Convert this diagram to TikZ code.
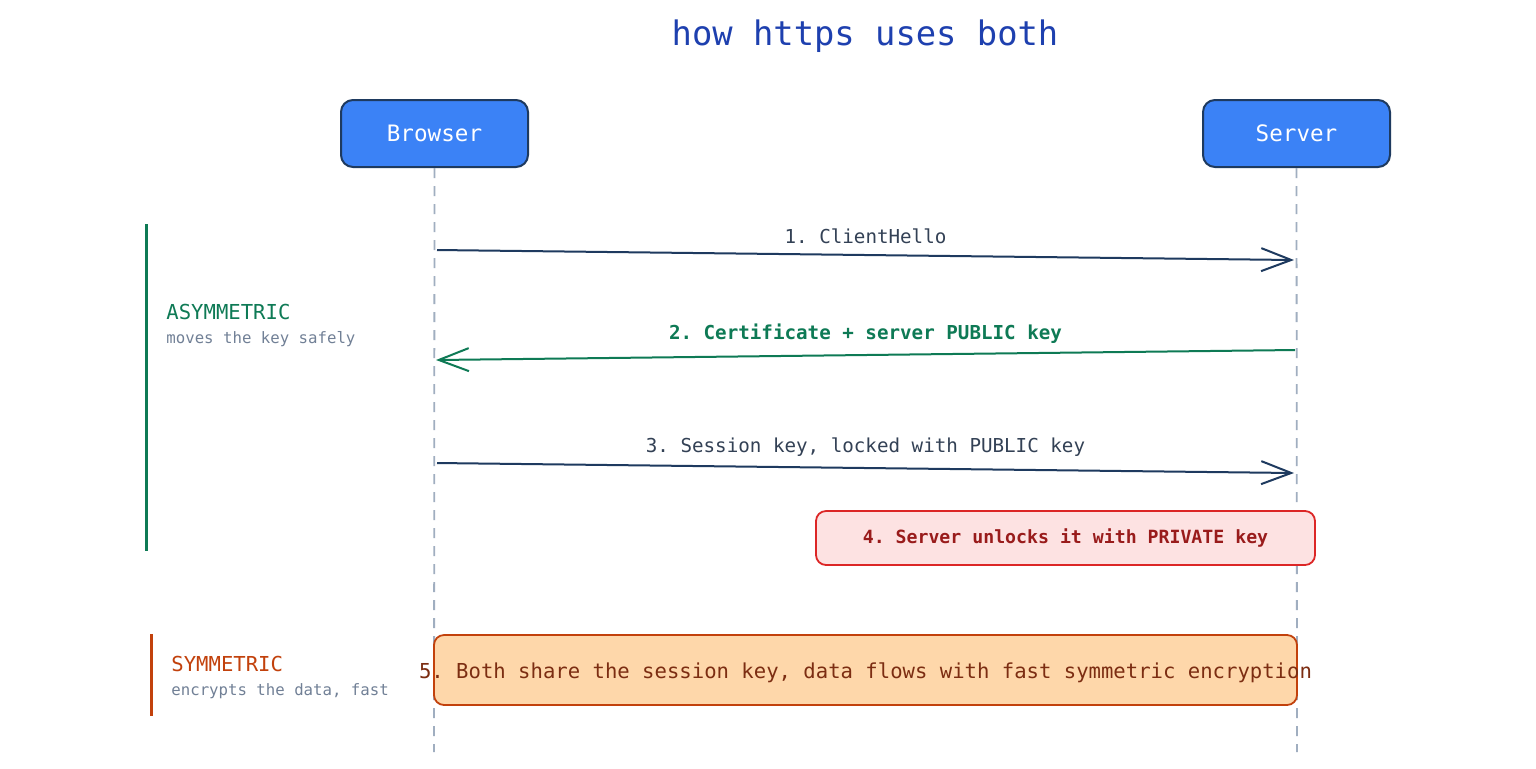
\documentclass[tikz,border=0pt]{standalone}
\usepackage{fontspec}
\setmonofont{DejaVu Sans Mono}
\usepackage{tikz}
\usetikzlibrary{arrows.meta, positioning}
\definecolor{boxblue}{HTML}{3B82F6}
\definecolor{navy}{HTML}{1E3A5F}
\definecolor{titleblue}{HTML}{1E40AF}
\definecolor{asymgreen}{HTML}{0E7A55}
\definecolor{labelgray}{HTML}{334155}
\definecolor{subgray}{HTML}{718096}
\definecolor{lifegray}{HTML}{A0AEC0}
\definecolor{privred}{HTML}{DC2626}
\definecolor{privfill}{HTML}{FDE2E2}
\definecolor{privtext}{HTML}{991B1B}
\definecolor{symorange}{HTML}{C2410C}
\definecolor{symfill}{HTML}{FED7AA}
\definecolor{symtext}{HTML}{7C2D12}

\begin{document}
\begin{tikzpicture}[
  x=0.5pt, y=-0.5pt,
  actor/.style={draw=navy, line width=1pt, rounded corners=6pt, fill=boxblue,
                minimum width=93.5pt, minimum height=33.5pt, text=white,
                font=\ttfamily\fontsize{11.3}{13}\selectfont},
  lifeline/.style={draw=lifegray, line width=0.9pt, dash pattern=on 5pt off 4pt},
  msg/.style={-{Straight Barb[length=15pt, width=11.5pt, line width=1pt]},
              line width=1pt, color=navy},
  msglabel/.style={font=\ttfamily\fontsize{9.6}{11}\selectfont, text=labelgray},
  note/.style={rounded corners=5pt, line width=0.9pt,
               font=\ttfamily\fontsize{9.1}{11}\selectfont},
  phase/.style={anchor=west, inner sep=0pt,
                font=\ttfamily\fontsize{10.3}{12}\selectfont},
  phasesub/.style={anchor=west, inner sep=0pt, text=subgray,
                   font=\ttfamily\fontsize{7.85}{9}\selectfont},
]
\useasboundingbox[fill=white] (0,0) rectangle (1536,768);

%% Title
\node[text=titleblue, font=\ttfamily\fontsize{16.9}{20}\selectfont] (title)
  at (865,36) {how https uses both};

%% Actors
\node[actor] (browser) at (434.5,133.5) {Browser};
\node[actor] (server)  at (1296.5,133.5) {Server};

%% Lifelines
\coordinate (bend) at (434,752);
\coordinate (send) at (1297,752);
\draw[lifeline] (browser.south) -- (bend);
\draw[lifeline] (server.south) -- (send);

%% Phase bars
\coordinate (asymtop) at (146,224);
\coordinate (asymbot) at (146,551);
\coordinate (symtop)  at (151,634);
\coordinate (symbot)  at (151,716);
\draw[asymgreen, line width=1.5pt] (asymtop) -- (asymbot);
\draw[symorange, line width=1.5pt] (symtop) -- (symbot);

\node[phase, text=asymgreen] (asym) at (166,312) {ASYMMETRIC};
\node[phasesub] (asymsub) at (166,339) {moves the key safely};
\node[phase, text=symorange] (sym) at (171,664) {SYMMETRIC};
\node[phasesub] (symsub) at (171,691) {encrypts the data, fast};

%% Messages
\coordinate (m1a) at (437,250);
\coordinate (m1b) at (1294,260);
\coordinate (m2a) at (1295,350);
\coordinate (m2b) at (436,360);
\coordinate (m3a) at (437,463);
\coordinate (m3b) at (1294,473);

\draw[msg] (m1a) -- node[msglabel, above=2pt] {1. ClientHello} (m1b);
\draw[msg, color=asymgreen] (m2a) --
  node[msglabel, above=2pt, text=asymgreen, font=\ttfamily\bfseries\fontsize{9.6}{11}\selectfont]
  {2. Certificate + server PUBLIC key} (m2b);
\draw[msg] (m3a) -- node[msglabel, above=2pt] {3. Session key, locked with PUBLIC key} (m3b);

%% Notes
\node[note, draw=privred, fill=privfill, text=privtext,
      minimum width=249.5pt, minimum height=27pt,
      font=\ttfamily\bfseries\fontsize{9.1}{11}\selectfont] (unlock)
  at (1065.5,538) {4. Server unlocks it with PRIVATE key};

\node[note, draw=symorange, fill=symfill,
      minimum width=431.5pt, minimum height=35pt] (share) at (865.5,670) {};
\node[text=symtext, font=\ttfamily\fontsize{10.3}{12}\selectfont] (sharetext)
  at ([yshift=-1.5pt]share.center) {5. Both share the session key, data flows with fast symmetric encryption};

\end{tikzpicture}
\end{document}
